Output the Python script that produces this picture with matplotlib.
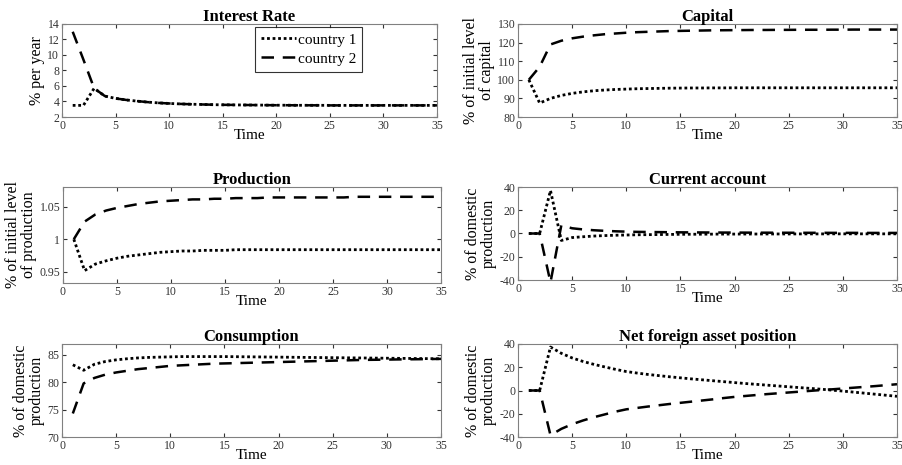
import matplotlib
matplotlib.use("Agg")
import matplotlib.pyplot as plt

plt.rcParams['font.family'] = ['Liberation Serif', 'DejaVu Serif']

t = list(range(1, 36))

# interest rate (% per year)
rate_c1 = [3.5, 3.5, 5.7, 4.7, 4.4, 4.2, 4.05, 3.92, 3.82, 3.75, 3.69, 3.65, 3.62, 3.59, 3.57,
           3.56, 3.55, 3.54, 3.53, 3.52, 3.52, 3.51, 3.51, 3.51, 3.5, 3.5, 3.5, 3.5, 3.5, 3.5,
           3.5, 3.5, 3.5, 3.5, 3.5]
rate_c2 = [13.0, 9.4, 5.7, 4.7, 4.4, 4.2, 4.05, 3.92, 3.82, 3.75, 3.69, 3.65, 3.62, 3.59, 3.57,
           3.56, 3.55, 3.54, 3.53, 3.52, 3.52, 3.51, 3.51, 3.51, 3.5, 3.5, 3.5, 3.5, 3.5, 3.5,
           3.5, 3.5, 3.5, 3.5, 3.5]

# capital (% of initial level)
cap_c1 = [100, 87.5, 90.0, 91.6, 92.7, 93.5, 94.1, 94.5, 94.8, 95.0, 95.2, 95.3, 95.4, 95.5, 95.55,
          95.6, 95.6, 95.65, 95.65, 95.7, 95.7, 95.7, 95.7, 95.7, 95.7, 95.7, 95.7, 95.7, 95.7, 95.7,
          95.7, 95.7, 95.7, 95.7, 95.7]
cap_c2 = [100, 107, 119, 121, 122.3, 123.2, 123.9, 124.5, 124.9, 125.3, 125.6, 125.8, 126.0, 126.2, 126.3,
          126.4, 126.5, 126.6, 126.65, 126.7, 126.75, 126.8, 126.8, 126.85, 126.85, 126.9, 126.9, 126.9, 126.95, 126.95,
          127, 127, 127, 127, 127]

# production (relative to initial level)
prod_c1 = [1.0, 0.952, 0.962, 0.967, 0.971, 0.974, 0.976, 0.978, 0.980, 0.981, 0.982, 0.982, 0.983, 0.983, 0.983,
           0.984, 0.984, 0.984, 0.984, 0.984, 0.984, 0.984, 0.984, 0.984, 0.984, 0.984, 0.984, 0.984, 0.984, 0.984,
           0.984, 0.984, 0.984, 0.984, 0.984]
prod_c2 = [1.0, 1.027, 1.038, 1.044, 1.048, 1.051, 1.054, 1.056, 1.058, 1.059, 1.060, 1.061, 1.061, 1.062, 1.062,
           1.063, 1.063, 1.063, 1.064, 1.064, 1.064, 1.064, 1.064, 1.064, 1.064, 1.064, 1.065, 1.065, 1.065, 1.065,
           1.065, 1.065, 1.065, 1.065, 1.065]

# current account (% of domestic production)
ca_c1 = [0, 0, 37, -6, -3.5, -2.8, -2.2, -1.8, -1.5, -1.3, -1.1, -1.0, -0.9, -0.8, -0.7,
         -0.65, -0.6, -0.55, -0.5, -0.5, -0.45, -0.45, -0.4, -0.4, -0.4, -0.35, -0.35, -0.35, -0.3, -0.3,
         -0.3, -0.3, -0.3, -0.3, -0.3]
ca_c2 = [0, 0, -42, 7, 4.5, 3.5, 2.8, 2.3, 1.9, 1.6, 1.4, 1.3, 1.2, 1.1, 1.0,
         0.95, 0.9, 0.85, 0.8, 0.8, 0.75, 0.7, 0.7, 0.65, 0.65, 0.6, 0.6, 0.6, 0.55, 0.55,
         0.55, 0.5, 0.5, 0.5, 0.5]

# consumption (% of domestic production)
cons_c1 = [83.2, 82.2, 83.3, 83.8, 84.1, 84.3, 84.45, 84.55, 84.6, 84.65, 84.7, 84.7, 84.7, 84.7, 84.7,
           84.68, 84.66, 84.64, 84.62, 84.6, 84.58, 84.56, 84.54, 84.52, 84.5, 84.48, 84.46, 84.44, 84.42, 84.4,
           84.38, 84.36, 84.34, 84.32, 84.3]
cons_c2 = [74.3, 79.8, 80.8, 81.4, 81.8, 82.1, 82.4, 82.6, 82.8, 83.0, 83.1, 83.2, 83.3, 83.4, 83.45,
           83.5, 83.55, 83.6, 83.65, 83.7, 83.75, 83.8, 83.85, 83.9, 83.95, 84.0, 84.05, 84.1, 84.12, 84.15,
           84.18, 84.2, 84.22, 84.25, 84.28]

# net foreign asset position (% of domestic production)
nfa_c1 = [0, 0, 37.4, 32, 28, 25, 22.5, 20.3, 18.2, 16.3, 15, 13.8, 12.8, 11.8, 10.9,
          10.0, 9.2, 8.4, 7.6, 6.8, 6.0, 5.3, 4.6, 3.9, 3.2, 2.5, 1.8, 1.1, 0.3, -0.5,
          -1.4, -2.3, -3.2, -4.1, -5.0]
nfa_c2 = [0, 0, -38.5, -33, -29, -25.8, -23, -20.6, -18.2, -16.2, -15, -13.8, -12.7, -11.6, -10.6,
          -9.6, -8.6, -7.6, -6.5, -5.5, -4.7, -3.9, -3.1, -2.4, -1.7, -1.0, -0.3, 0.4, 1.0, 1.7,
          2.4, 3.1, 3.8, 4.6, 5.4]

W, H = 902, 465
fig = plt.figure(figsize=(W / 100, H / 100), dpi=100)


def make_axes(x0, y0, x1, y1):
    return fig.add_axes([x0 / W, (H - y1) / H, (x1 - x0) / W, (y1 - y0) / H])


panels = [
    (make_axes(62, 24, 437, 117), 'Interest Rate', '% per year', rate_c1, rate_c2, (2, 14), [2, 4, 6, 8, 10, 12, 14]),
    (make_axes(518, 24, 897, 117), 'Capital', '% of initial level\nof capital', cap_c1, cap_c2, (80, 130), [80, 90, 100, 110, 120, 130]),
    (make_axes(63, 187, 441, 283), 'Production', '% of initial level\nof production', prod_c1, prod_c2, (0.933, 1.08), [0.95, 1, 1.05]),
    (make_axes(518, 187, 897, 280), 'Current account', '% of domestic\nproduction', ca_c1, ca_c2, (-40, 40), [-40, -20, 0, 20, 40]),
    (make_axes(62, 344, 441, 437), 'Consumption', '% of domestic\nproduction', cons_c1, cons_c2, (70, 87), [70, 75, 80, 85]),
    (make_axes(518, 344, 897, 437), 'Net foreign asset position', '% of domestic\nproduction', nfa_c1, nfa_c2, (-40, 40), [-40, -20, 0, 20, 40]),
]

for ax, title, ylab, y1, y2, ylim, yticks in panels:
    ax.plot(t, y1, color='black', linestyle=(0, (1, 1)), linewidth=2.0, label='country 1')
    ax.plot(t, y2, color='black', linestyle=(0, (5, 3.5)), linewidth=1.8, label='country 2')
    ax.set_xlim(0, 35)
    ax.set_ylim(*ylim)
    ax.set_xticks(range(0, 36, 5))
    ax.set_yticks(yticks)
    ax.set_yticklabels([('%g' % v) for v in yticks])
    ax.set_title(title, fontsize=12, fontweight='bold', pad=2)
    ax.set_xlabel('Time', fontsize=11, labelpad=-2)
    ax.set_ylabel(ylab, fontsize=11.5, labelpad=2, linespacing=0.95)
    ax.tick_params(direction='in', top=True, right=True, labelsize=8.5, length=3,
                   colors='#333333', pad=2)
    for sp in ax.spines.values():
        sp.set_color('#808080')
        sp.set_linewidth(0.8)

ax0 = panels[0][0]
leg = ax0.legend(loc='upper right', bbox_to_anchor=(0.8, 0.97), fontsize=11, frameon=True,
                 fancybox=False, handlelength=2.3, handletextpad=0.1, borderpad=0.4,
                 labelspacing=0.35, borderaxespad=0)
leg.get_frame().set_edgecolor('black')
leg.get_frame().set_linewidth(0.8)

fig.savefig('out.png', dpi=100)
